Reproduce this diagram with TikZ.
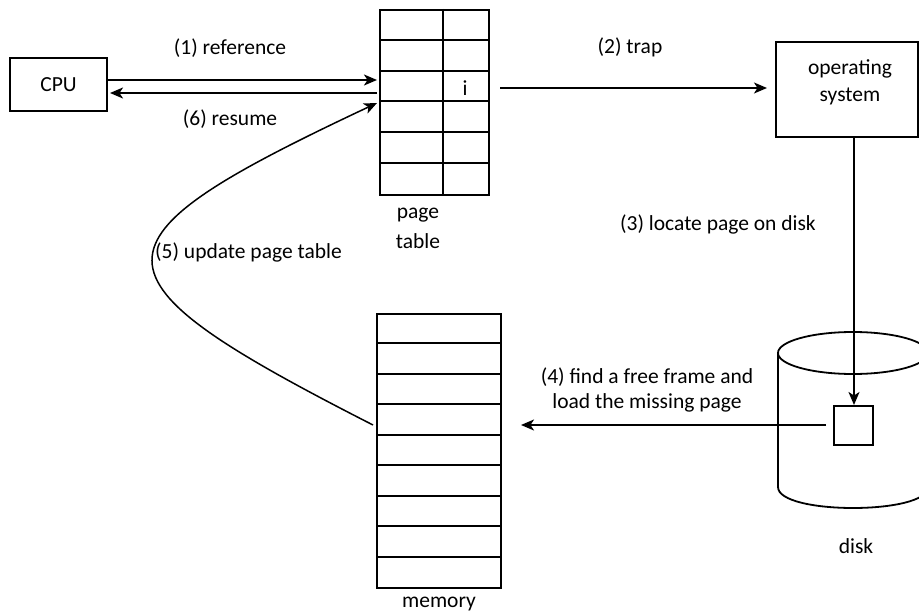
\documentclass[tikz,border=0pt]{standalone}
\usepackage{fontspec}
\setmainfont{Carlito}
\usetikzlibrary{arrows.meta,calc}
\begin{document}
\begin{tikzpicture}[x=1pt,y=-1pt,
  box/.style={draw,line width=2pt,inner sep=0pt},
  grid/.style={line width=2pt},
  lbl/.style={font=\fontsize{21.5}{26}\selectfont,inner sep=0pt,align=center},
  arr/.style={line width=1.8pt,-{Stealth[length=13pt,width=11pt,inset=3.5pt]}},
  thin arr/.style={line width=1.5pt,-{Stealth[length=13pt,width=11pt,inset=3.5pt]}}]
\useasboundingbox (0,0) rectangle (919,615);
\clip (0,0) rectangle (919,615);

% CPU
\node[box,lbl,minimum width=97pt,minimum height=53pt] (cpu) at (58.5,84.5) {CPU};

% page table
\node[box,minimum width=109pt,minimum height=185pt] (pt) at (434.5,102.5) {};
\foreach \i in {1,...,5}
  \draw[grid] ($(pt.north west)+(0,30.83*\i)$) -- ++(109,0);
\draw[grid] ($(pt.north west)+(64,0)$) -- ($(pt.south west)+(64,0)$);
\node[lbl] (iv) at (465,88) {i};
\node[lbl,font=\fontsize{21.5}{30}\selectfont] (ptl) at (418,228) {page\\table};

% operating system
\node[box,minimum width=142pt,minimum height=95pt] (os) at (847,89.5) {};
\node[lbl,font=\fontsize{21.5}{27}\selectfont] (ost) at (850,82) {operating\\system};

% memory
\node[box,minimum width=124pt,minimum height=274pt] (mem) at (439,451) {};
\foreach \i in {1,...,8}
  \draw[grid] ($(mem.north west)+(0,30.444*\i)$) -- ++(124,0);
\node[lbl] (meml) at (439,604) {memory};

% disk
\draw[line width=1.8pt] (853,353) ellipse [x radius=75, y radius=21];
\draw[line width=1.8pt] (778,353) -- (778,487) .. controls (778,515) and (928,515) .. (928,487) -- (928,353);
\node[box,fill=white,minimum size=39pt] (blk) at (853.5,425.5) {};
\node[lbl] (diskl) at (856,546) {disk};

% coordinates
\coordinate (y1) at (0,80);
\coordinate (y6) at (0,93);
\coordinate (y2) at (0,88);
\coordinate (y4) at (0,425);
\coordinate (y5a) at (0,425);
\coordinate (y5b) at (0,103);
\coordinate (x3) at (854,0);

% connectors
\draw[arr] (cpu.east |- y1) -- ($(pt.west |- y1)+(-2,0)$);
\draw[arr] ($(pt.west |- y6)+(-2,0)$) -- ($(cpu.east |- y6)+(2,0)$);
\draw[arr] ($(pt.east |- y2)+(10,0)$) -- ($(os.west |- y2)+(-8,0)$);
\draw[arr] (x3 |- os.south) -- (x3 |- blk.north);
\draw[arr] ($(blk.west |- y4)+(-7,0)$) -- ($(mem.east |- y4)+(19,0)$);
\draw[thin arr] ($(mem.west |- y5a)+(-3,0)$) .. controls (79,275) and (79,243) .. ($(pt.west |- y5b)+(-2,0)$);

% labels
\node[lbl] (l1) at (230,48) {(1) reference};
\node[lbl] (l6) at (230,119) {(6) resume};
\node[lbl] (l2) at (630,47) {(2) trap};
\node[lbl] (l3) at (718,224) {(3) locate page on disk};
\node[lbl,font=\fontsize{21.5}{25}\selectfont] (l4) at (647,389.5) {(4) find a free frame and\\load the missing page};
\node[lbl,anchor=west] (l5) at (155,252) {(5) update page table};
\end{tikzpicture}
\end{document}
